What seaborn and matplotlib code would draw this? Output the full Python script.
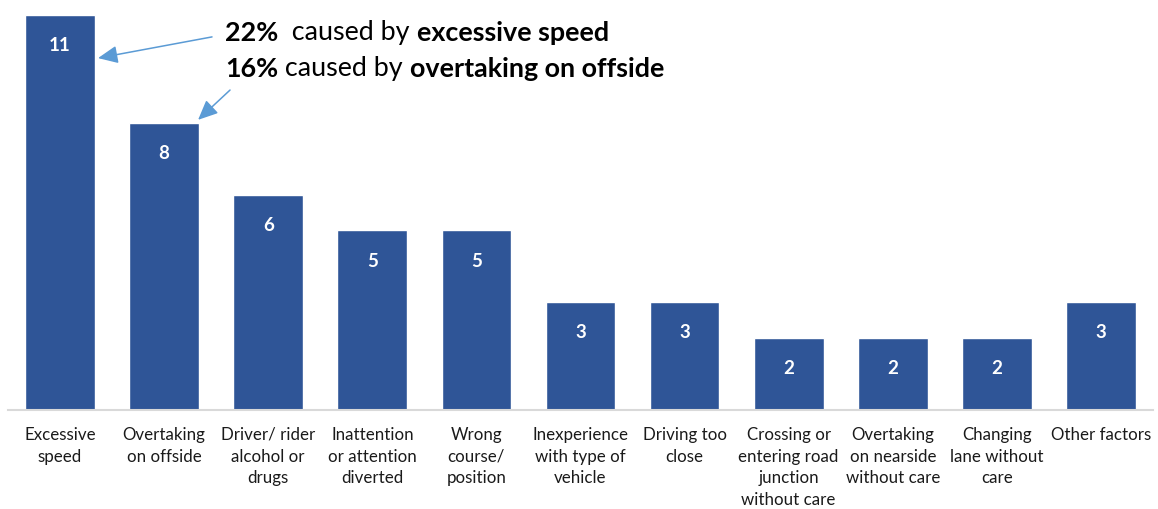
import matplotlib
matplotlib.use("Agg")
import matplotlib.pyplot as plt
import seaborn as sns
import pandas as pd

factors = [
    "Excessive\nspeed",
    "Overtaking\non offside",
    "Driver/ rider\nalcohol or\ndrugs",
    "Inattention\nor attention\ndiverted",
    "Wrong\ncourse/\nposition",
    "Inexperience\nwith type of\nvehicle",
    "Driving too\nclose",
    "Crossing or\nentering road\njunction\nwithout care",
    "Overtaking\non nearside\nwithout care",
    "Changing\nlane without\ncare",
    "Other factors",
]
counts = [11, 8, 6, 5, 5, 3, 3, 2, 2, 2, 3]

BAR = "#2F5597"
ARROW = "#5B9BD5"
FONT = "Lato"

sns.set_theme(style="white")
plt.rcParams["font.family"] = [FONT, "DejaVu Sans"]

df = pd.DataFrame({"factor": factors, "count": counts})

fig = plt.figure(figsize=(11.58, 5.09), dpi=100)
ax = fig.add_axes([8 / 1158, 99 / 509, 1145 / 1158, 395 / 509])
sns.barplot(data=df, x="factor", y="count", color=BAR, saturation=1,
            width=0.67, ax=ax)

ax.set_xlim(-0.5, len(factors) - 0.5)
ax.set_ylim(0, 11)
ax.set_xlabel("")
ax.set_ylabel("")
ax.set_yticks([])
for side in ("top", "left", "right"):
    ax.spines[side].set_visible(False)
ax.spines["bottom"].set_color("#D9D9D9")
ax.spines["bottom"].set_linewidth(1.5)
ax.tick_params(axis="x", length=0, pad=12, labelsize=12.2, labelcolor="#1a1a1a")
for lbl in ax.get_xticklabels():
    lbl.set_linespacing(1.45)
    lbl.set_verticalalignment("top")

# value labels inside the top of each bar
for i, v in enumerate(counts):
    ax.annotate(str(v), xy=(i, v), xytext=(0, -22), textcoords="offset points",
                ha="center", va="center", color="white", fontsize=13.5,
                fontweight="bold")

# callout text, built from bold and regular runs placed end to end
def chain(x, y, parts, size=19.4):
    first = fig.text(x, y, parts[0][0], fontsize=size, fontweight=parts[0][1],
                     va="baseline", ha="left", color="black")
    prev = first
    for txt, w in parts[1:]:
        prev = ax.annotate(txt, xy=(1, 0), xycoords=prev, fontsize=size,
                           fontweight=w, va="bottom", ha="left",
                           color="black", annotation_clip=False)
    return first

chain(225 / 1158, 1 - 41 / 509,
      [("22%", "bold"), ("  caused by ", "normal"), ("excessive speed", "bold")])
chain(225 / 1158, 1 - 77 / 509,
      [("16%", "bold"), (" caused by ", "normal"), ("overtaking on offside", "bold")])

arrow = dict(arrowstyle="-|>,head_length=1.0,head_width=0.45", color=ARROW,
             lw=1.1, shrinkA=0, shrinkB=0)
ax.annotate("", xy=(0.365, 9.8), xytext=(1.46, 10.39), arrowprops=arrow,
            annotation_clip=False)
ax.annotate("", xy=(1.326, 8.08), xytext=(1.633, 8.91), arrowprops=arrow,
            annotation_clip=False)

fig.savefig("out.png", dpi=100, facecolor="white")
